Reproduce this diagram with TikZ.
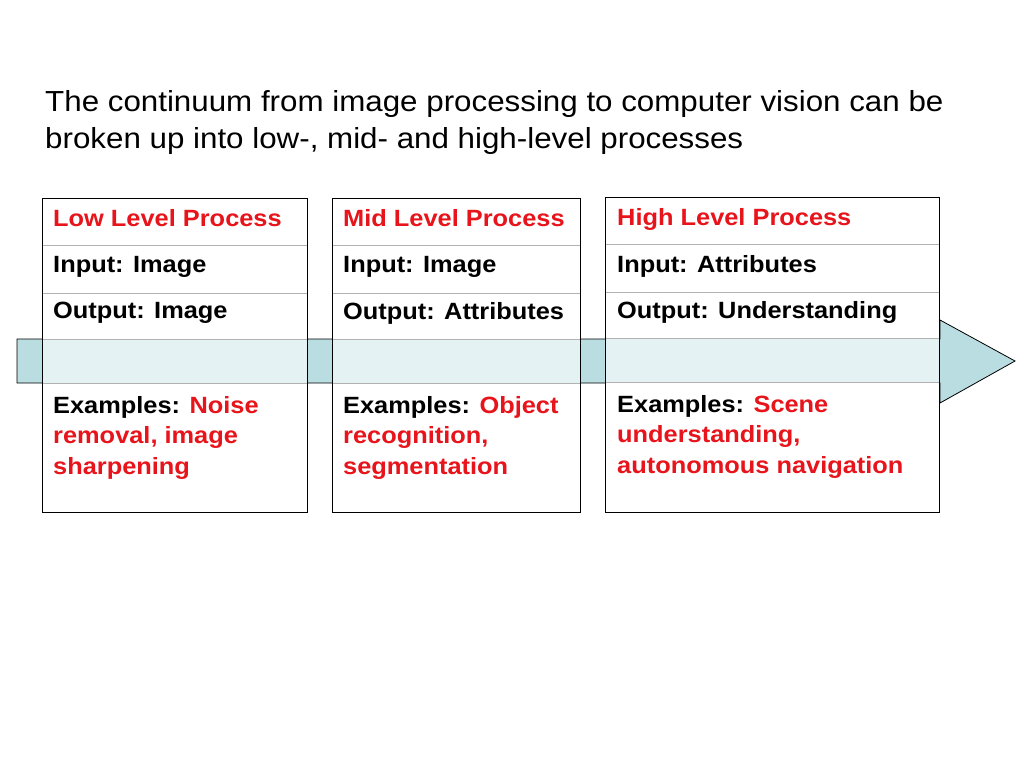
\documentclass[tikz,border=0pt]{standalone}
\usepackage{fontspec}
\setmainfont{Liberation Sans}[FakeStretch=1.08]
\definecolor{band}{HTML}{B9DDE0}
\definecolor{bandin}{HTML}{E4F2F4}
\definecolor{redt}{HTML}{E8141B}
\begin{document}
\begin{tikzpicture}[x=1pt,y=-1pt,
  cell/.style={font=\bfseries\fontsize{23.5}{30.5}\selectfont,anchor=north west,align=left,inner sep=2pt},
  sep/.style={draw=gray!60,line width=1pt}]
\useasboundingbox (0,0) rectangle (1024,768);
\node[anchor=north west,align=left,inner sep=0pt,font=\fontsize{29}{37}\selectfont] (title) at (45,90)
 {The continuum from image processing to computer vision can be\\broken up into low-, mid- and high-level processes};
% arrow
\draw[fill=band,line width=0.8pt] (17,339) -- (940,339) -- (940,320) -- (1015,361) -- (940,403) -- (940,383) -- (17,383) -- cycle;
\coordinate (tip) at (1015,361);
% boxes
\foreach \n/\xa/\xb/\ya in {a/42/307/198,b/332/580/198,c/605/939/197}{
  \fill[white] (\xa,\ya) rectangle (\xb,512);
  \fill[bandin] (\xa,\ya+141) rectangle (\xb,\ya+185);
  \draw[sep] (\xa,\ya+47) -- (\xb,\ya+47);
  \draw[sep] (\xa,\ya+95) -- (\xb,\ya+95);
  \draw[sep] (\xa,\ya+141) -- (\xb,\ya+141);
  \draw[sep] (\xa,\ya+185) -- (\xb,\ya+185);
  \draw[line width=1pt] (\xa,\ya) rectangle (\xb,512);
  \node (\n box) at ({(\xa+\xb)/2},355) {};
}
\node[cell,text=redt] (a1) at (51,207) {Low Level Process};
\node[cell] (a2) at (51,254) {Input: Image};
\node[cell] (a3) at (51,300) {Output: Image};
\node[cell] (a4) at (51,394) {Examples: \textcolor{redt}{Noise}\\\textcolor{redt}{removal, image}\\\textcolor{redt}{sharpening}};
\node[cell,text=redt] (b1) at (341,207) {Mid Level Process};
\node[cell] (b2) at (341,254) {Input: Image};
\node[cell] (b3) at (341,300) {Output: Attributes};
\node[cell] (b4) at (341,394) {Examples: \textcolor{redt}{Object}\\\textcolor{redt}{recognition,}\\\textcolor{redt}{segmentation}};
\node[cell,text=redt] (c1) at (615,206) {High Level Process};
\node[cell] (c2) at (615,253) {Input: Attributes};
\node[cell] (c3) at (615,299) {Output: Understanding};
\node[cell] (c4) at (615,393) {Examples: \textcolor{redt}{Scene}\\\textcolor{redt}{understanding,}\\\textcolor{redt}{autonomous navigation}};
\end{tikzpicture}
\end{document}
